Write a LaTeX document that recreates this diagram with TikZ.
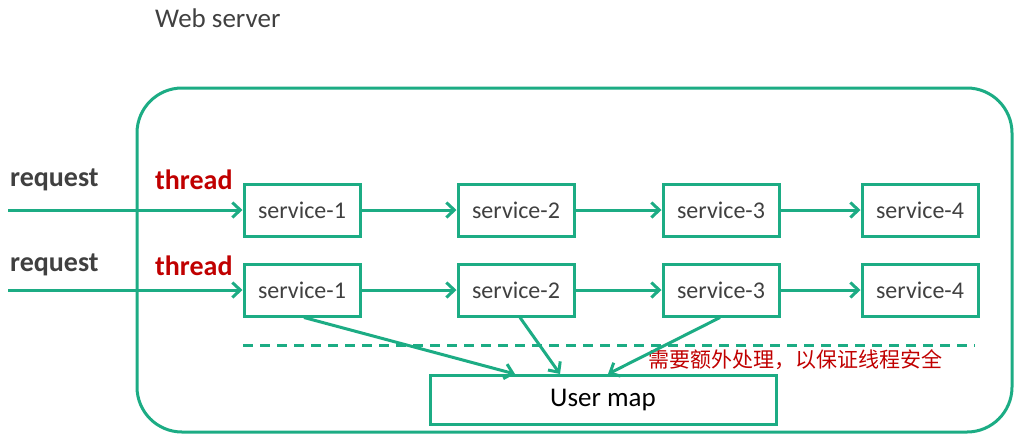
\documentclass[tikz,border=0pt]{standalone}
\usepackage{fontspec}
\setmainfont{Carlito}
\newfontfamily\cjk{Noto Sans CJK SC}
\usetikzlibrary{positioning,arrows.meta}
\definecolor{srvgreen}{RGB}{28,172,132}
\definecolor{txtgrey}{RGB}{64,64,64}
\definecolor{thrred}{RGB}{192,0,0}

\tikzset{
    service/.style={draw=srvgreen, line width=3pt, minimum width=116pt, minimum height=52pt,
        inner sep=0pt, font=\fontsize{24}{28}\selectfont, text=txtgrey},
    flow/.style={draw=srvgreen, line width=3pt, -{Straight Barb[length=8pt,width=15pt,line width=3pt]}},
    label/.style={font=\bfseries\fontsize{28}{32}\selectfont, anchor=west, inner sep=0pt}
}

\begin{document}
\begin{tikzpicture}[x=1pt,y=-1pt]
    \useasboundingbox (0,0) rectangle (1024,440);

    % web server frame
    \draw[srvgreen, line width=3pt, rounded corners=45pt] (137,88) rectangle (1012,432);
    \node[anchor=west, inner sep=0pt, text=txtgrey, font=\fontsize{27}{31}\selectfont] (title) at (155,18) {Web server};

    % two threads
    \foreach \r/\y in {a/210, b/290} {
        \node[service] (\r1) at (302,\y) {service-1};
        \node[service] (\r2) at (516,\y) {service-2};
        \node[service] (\r3) at (721,\y) {service-3};
        \node[service] (\r4) at (920,\y) {service-4};
        \coordinate (\r in) at (8,\y);
        \draw[flow] (\r in) -- (\r1.west);
        \draw[flow] (\r1) -- (\r2);
        \draw[flow] (\r2) -- (\r3);
        \draw[flow] (\r3) -- (\r4);
    }
    \node[label, text=txtgrey] (reqa) at (10,180) {request};
    \node[label, text=txtgrey] (reqb) at (10,265) {request};
    \node[label, text=thrred] (thra) at (155,180) {thread};
    \node[label, text=thrred] (thrb) at (155,266) {thread};

    % shared map
    \coordinate (dashl) at (243,345);
    \coordinate (dashr) at (975,345);
    \draw[srvgreen, line width=3pt, dash pattern=on 10pt off 7pt] (dashl) -- (dashr);
    \node[anchor=west, inner sep=0pt, text=thrred, font=\cjk\fontsize{21}{25}\selectfont] (note) at (648,360) {需要额外处理，以保证线程安全};
    \node[service, minimum width=346pt, minimum height=49pt, text=black, font=\fontsize{27}{31}\selectfont] (map) at (603,400) {User map};
    \draw[flow] ([xshift=2pt]b1.south) -- ([xshift=-88pt]map.north);
    \draw[flow] ([xshift=4pt]b2.south) -- ([xshift=-43pt]map.north);
    \draw[flow] ([xshift=-1pt]b3.south) -- ([xshift=5pt]map.north);
\end{tikzpicture}
\end{document}
